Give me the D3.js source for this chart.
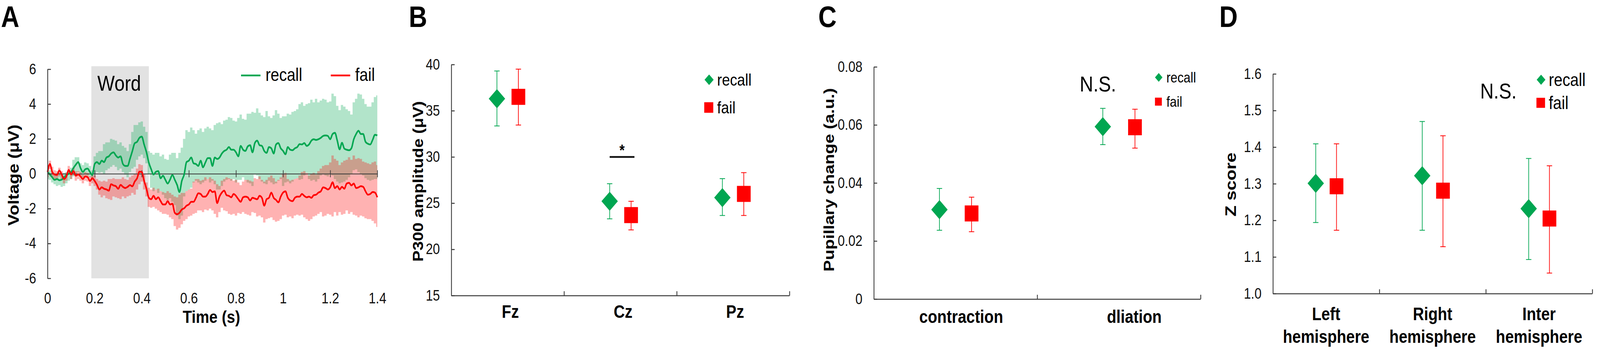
<!DOCTYPE html>
<html>
<head>
<meta charset="utf-8">
<script src="https://cdn.jsdelivr.net/npm/d3@7.9.0/dist/d3.min.js"></script>
<style>
  html, body { margin: 0; padding: 0; background: #fff; width: 100%; height: 100%; overflow: hidden; }
  svg { display: block; width: 100vw; height: 100vh; font-family: "Liberation Sans", Arial, sans-serif; }
</style>
</head>
<body>
<svg id="fig" viewBox="0 0 4779 903" preserveAspectRatio="none"></svg>
<script>
// ---------- panel A: ERP time course (0.01 s steps, 0 .. 1.4 s) ----------
const timeStep = 0.01;
const timeTicks = [0, 0.2, 0.4, 0.6, 0.8, 1, 1.2, 1.4];
const timeTickLabels = ["0", "0.2", "0.4", "0.6", "0.8", "1", "1.2", "1.4"];
const voltTicks = [-6, -4, -2, 0, 2, 4, 6];
const wordWindow = [0.186, 0.43];

const recallMean = [
  0.1, -0.04, -0.2, -0.35, -0.3, -0.37, -0.34, -0.2, -0.08, 0,
  0.1, 0.33, 0.52, 0.67, 0.33, 0.1, 0.26, 0.3, 0.1, -0.07,
  0.56, 0.67, 0.56, 0.75, 0.67, 0.93, 1.0, 1.16, 1.23, 1.05,
  0.93, 1.0, 0.56, 0.45, 0.45, 0.86, 1.3, 1.75, 1.83, 2.06,
  2.13, 1.68, 1.23, 0.64, 0.26, -0.04, 0.11, 0.15, -0.26, -0.11,
  -0.34, -0.56, -0.34, -0.07, -0.34, -0.64, -1.05, -0.41, -0.04, 0.67,
  0.75, 0.93, 0.6, 0.56, 0.45, 0.75, 0.37, 0.64, 0.9, 0.9,
  0.45, 0.93, 0.85, 0.93, 1.16, 1.31, 1.38, 1.53, 1.38, 1.38,
  1.23, 1.0, 1.6, 1.38, 1.31, 1.57, 1.64, 1.23, 1.76, 1.9,
  1.64, 1.6, 1.31, 1.2, 1.53, 1.46, 1.16, 1.68, 1.76, 1.46,
  1.31, 1.12, 1.53, 1.38, 1.35, 1.46, 1.53, 1.7, 1.68, 1.76,
  1.6, 1.68, 1.9, 1.98, 1.94, 1.98, 2.06, 2.17, 2.2, 2.17,
  1.98, 2.28, 2.35, 1.9, 1.4, 1.78, 1.44, 1.38, 1.35, 1.46,
  1.98, 2.28, 2.47, 2.28, 2.28, 1.83, 1.72, 1.68, 1.94, 2.24, 2.2
];
const recallUpper = [
  0.45, 0.2, 0.1, 0.0, 0.0, 0.05, 0.0, 0.05, 0.1, 0.2,
  0.35, 0.8, 0.95, 0.95, 0.6, 0.5, 0.65, 0.6, 0.45, 0.2,
  1.0, 1.2, 1.3, 1.3, 1.7, 1.8, 1.8, 2.0, 1.95, 1.9,
  1.7, 1.8, 1.6, 1.5, 1.3, 1.7, 2.4, 2.8, 2.8, 2.95,
  3.0, 2.7, 2.4, 1.3, 1.2, 1.1, 1.2, 1.2, 1.0, 1.1,
  0.85, 0.8, 1.1, 1.2, 1.2, 0.9, 1.2, 1.5, 2.0, 2.5,
  2.4, 2.65, 2.5, 2.3, 2.5, 2.6, 2.4, 2.6, 2.7, 2.6,
  2.5, 2.8, 2.9, 2.95, 2.85, 3.05, 3.1, 3.25, 3.2, 3.05,
  3.0, 3.2, 3.4, 3.15, 3.1, 3.45, 3.45, 3.55, 3.5, 3.75,
  3.5, 3.35, 3.25, 3.6, 3.3, 3.2, 3.35, 3.65, 3.45, 3.2,
  3.3, 3.3, 3.45, 3.4, 3.55, 3.6, 3.7, 4.0, 4.1, 3.9,
  4.0, 4.05, 4.25, 4.1, 4.3, 4.1, 4.2, 4.3, 4.25, 4.1,
  4.15, 4.6, 4.45, 3.9, 3.65, 3.95, 3.85, 3.7, 3.6, 3.4,
  4.1, 4.3, 4.6, 4.55, 4.3, 4.0, 3.85, 3.85, 4.1, 4.4, 4.5
];
const recallLower = [
  -0.3, -0.35, -0.5, -0.6, -0.7, -0.65, -0.75, -0.7, -0.55, -0.4,
  -0.3, -0.15, 0.0, 0.1, -0.1, -0.2, -0.05, -0.1, -0.2, -0.35,
  0.0, 0.1, 0.05, 0.1, 0.0, 0.2, 0.3, 0.4, 0.5, 0.4,
  0.2, 0.3, 0.1, -0.05, -0.2, 0.1, 0.3, 0.4, 0.8, 1.0,
  1.1, 0.9, 0.6, 0.0, -0.8, -1.0, -0.9, -1.1, -1.0, -1.2,
  -1.4, -1.5, -1.4, -1.6, -1.8, -2.4, -2.6, -2.4, -1.3, -1.0,
  -0.9, -0.8, -0.5, -0.4, -0.5, -0.6, -0.5, -0.4, -0.3, -0.5,
  -0.4, -0.6, -0.9, -0.9, -0.7, -0.45, -0.35, -0.3, -0.4, -0.3,
  -0.5, -0.35, -0.35, -0.2, -0.35, -0.5, -0.55, -0.7, -0.05, -0.1,
  -0.3, -0.45, -0.55, -0.6, -0.4, -0.5, -0.6, -0.55, -0.4, -0.3,
  -0.7, -0.5, -0.45, -0.55, -0.45, -0.3, -0.25, -0.35, -0.3, -0.1,
  0.05, -0.3, -0.4, -0.35, -0.45, -0.3, -0.1, 0.0, -0.1, -0.15,
  0.0, -0.1, -0.3, -0.45, -0.55, -0.5, -0.45, -0.35, -0.2, 0.0,
  0.2, 0.25, 0.1, 0.0, -0.1, -0.25, -0.35, -0.4, -0.35, -0.3, -0.3
];
const failMean = [
  0.1, 0.56, 0.1, -0.04, -0.07, 0.19, -0.04, -0.3, -0.15, 0.22,
  -0.04, 0.15, -0.11, -0.04, -0.15, -0.3, -0.15, -0.19, -0.41, -0.26,
  -0.41, -0.64, -0.9, -0.78, -0.86, -0.9, -0.97, -0.6, -0.67, -0.71,
  -0.86, -0.64, -0.75, -0.82, -0.75, -0.65, -0.72, -0.45, -0.26, 0.12,
  0.1, -0.41, -0.86, -1.38, -1.46, -1.27, -1.46, -1.35, -1.57, -1.76,
  -1.76, -1.57, -1.76, -1.72, -2.24, -2.32, -2.24, -2.05, -1.98, -1.83,
  -1.76, -1.61, -1.61, -1.38, -1.12, -1.16, -1.31, -1.31, -1.16, -0.93,
  -1.05, -1.01, -1.68, -1.31, -1.08, -0.97, -1.23, -1.27, -1.35, -1.16,
  -1.27, -1.46, -1.61, -1.35, -1.31, -1.35, -1.53, -1.38, -1.42, -1.46,
  -1.27, -1.38, -1.83, -1.46, -1.38, -1.08, -1.38, -1.5, -1.64, -1.31,
  -1.08, -1.01, -1.38, -1.53, -1.57, -1.38, -1.31, -1.31, -1.16, -1.27,
  -1.35, -1.31, -1.38, -1.23, -1.2, -1.08, -1.01, -0.78, -0.82, -0.9,
  -0.78, -0.49, -0.82, -0.71, -0.9, -0.75, -0.86, -0.56, -0.52, -0.67,
  -0.56, -0.82, -0.78, -0.71, -0.75, -1.01, -1.2, -1.16, -1.05, -1.08, -1.35
];
const failUpper = [
  0.5, 0.75, 0.4, 0.2, 0.15, 0.35, 0.15, -0.1, 0.05, 0.45,
  0.15, 0.35, 0.15, 0.15, 0.1, -0.05, 0.1, 0.05, -0.15, 0.0,
  -0.1, -0.3, -0.4, -0.45, -0.4, -0.45, -0.3, -0.3, -0.25, -0.3,
  -0.3, -0.3, -0.2, -0.3, -0.35, -0.2, -0.1, 0.0, 0.3, 0.55,
  0.5, 0.0, -0.5, -0.8, -0.9, -0.8, -0.9, -0.85, -1.0, -1.05,
  -1.1, -1.0, -1.1, -1.2, -1.3, -1.35, -1.2, -1.1, -1.1, -1.0,
  -0.9, -0.85, -0.45, -0.3, -0.3, -0.4, -0.35, -0.2, -0.3, -0.2,
  -0.3, -0.4, -0.6, -0.7, -0.4, -0.3, -0.2, -0.25, -0.3, -0.4,
  -0.35, -0.5, -0.65, -0.45, -0.35, -0.35, -0.4, -0.45, -0.25, -0.3,
  -0.15, -0.35, -0.45, -0.35, -0.2, -0.1, -0.25, -0.45, -0.35, -0.2,
  0.0, 0.05, -0.3, -0.4, -0.35, -0.3, -0.25, -0.1, 0.1, 0.15,
  0.05, -0.1, 0.0, 0.05, -0.05, 0.15, 0.3, 0.45, 0.5, 0.5,
  0.65, 1.05, 0.85, 0.75, 0.5, 0.65, 0.75, 0.8, 0.95, 0.8,
  1.05, 0.85, 0.9, 0.85, 0.7, 0.65, 0.6, 0.55, 0.65, 0.7, 0.5
];
const failLower = [
  -0.2, 0.25, -0.15, -0.3, -0.35, -0.15, -0.35, -0.55, -0.4, -0.05,
  -0.3, -0.1, -0.4, -0.3, -0.4, -0.55, -0.4, -0.45, -0.7, -0.55,
  -0.7, -0.9, -1.2, -1.35, -1.25, -1.4, -1.45, -1.5, -1.3, -1.35,
  -1.4, -1.45, -1.3, -1.4, -1.3, -1.25, -1.1, -1.2, -0.9, -0.6,
  -0.45, -0.9, -1.3, -1.9, -1.95, -1.9, -2.0, -2.1, -2.2, -2.3,
  -2.3, -2.35, -2.5, -2.6, -3.0, -3.2, -3.1, -2.9, -2.7, -2.6,
  -2.45, -2.4, -2.3, -2.25, -2.1, -2.1, -2.2, -2.05, -2.1, -2.0,
  -2.1, -2.3, -2.5, -2.2, -1.95, -2.1, -2.15, -2.3, -2.35, -2.3,
  -2.4, -2.25, -2.3, -2.2, -2.3, -2.35, -2.4, -2.2, -2.25, -2.45,
  -2.4, -2.5, -2.8, -2.6, -2.55, -2.5, -2.65, -2.75, -2.7, -2.6,
  -2.4, -2.35, -2.5, -2.45, -2.55, -2.4, -2.35, -2.4, -2.35, -2.5,
  -2.6, -2.7, -2.6, -2.45, -2.4, -2.3, -2.2, -2.45, -2.4, -2.3,
  -2.35, -2.45, -2.2, -2.4, -2.2, -2.35, -2.3, -2.1, -2.3, -2.2,
  -2.35, -2.4, -2.5, -2.4, -2.45, -2.55, -2.6, -2.6, -2.7, -2.85, -3.05
];

// ---------- panel B: P300 amplitude ----------
const electrodes = ["Fz", "Cz", "Pz"];
const p300Ticks = [15, 20, 25, 30, 35, 40];
const p300Recall = [36.3, 25.2, 25.6];
const p300RecallHigh = [39.3, 27.1, 27.65];
const p300RecallLow = [33.35, 23.3, 23.66];
const p300Fail = [36.5, 23.7, 26.0];
const p300FailHigh = [39.5, 25.2, 28.3];
const p300FailLow = [33.45, 22.1, 23.66];

// ---------- panel C: pupil ----------
const pupilPhases = ["contraction", "dliation"];
const pupilTicks = [0, 0.02, 0.04, 0.06, 0.08];
const pupilTickLabels = ["0", "0.02", "0.04", "0.06", "0.08"];
const pupilRecall = [0.0308, 0.0594];
const pupilRecallHigh = [0.0381, 0.0657];
const pupilRecallLow = [0.0237, 0.0532];
const pupilFail = [0.0295, 0.0592];
const pupilFailHigh = [0.0351, 0.0654];
const pupilFailLow = [0.0232, 0.052];

// ---------- panel D: Z score ----------
const hemispheres = [["Left", "hemisphere"], ["Right", "hemisphere"], ["Inter", "hemisphere"]];
const zTicks = [1.0, 1.1, 1.2, 1.3, 1.4, 1.5, 1.6];
const zTickLabels = ["1.0", "1.1", "1.2", "1.3", "1.4", "1.5", "1.6"];
const zRecall = [1.301, 1.322, 1.232];
const zRecallHigh = [1.409, 1.47, 1.369];
const zRecallLow = [1.194, 1.173, 1.093];
const zFail = [1.293, 1.281, 1.205];
const zFailHigh = [1.409, 1.431, 1.349];
const zFailLow = [1.173, 1.128, 1.056];

// ---------- drawing ----------
const GREEN = "#00a651";
const RED = "#ff0000";
const AXIS = "#3a3a3a";
const svg = d3.select("#fig");
svg.append("rect").attr("width", 4779).attr("height", 903).attr("fill", "#fff");

function styleAxis(g, fontSize) {
  g.select(".domain").attr("stroke", AXIS).attr("stroke-width", 2.5);
  g.selectAll(".tick line").attr("stroke", AXIS).attr("stroke-width", 2.5);
  g.selectAll(".tick text").attr("fill", "#111").style("font-size", fontSize + "px")
    .style("font-family", '"Liberation Sans", Arial, sans-serif');
}

function panelLetter(letter, x) {
  svg.append("text").attr("x", x).attr("y", 69).text(letter)
    .style("font-size", "76px").style("font-weight", "bold");
}

function yTitle(text, x, y, size) {
  svg.append("text").attr("transform", `translate(${x},${y}) rotate(-90)`)
    .attr("text-anchor", "middle").text(text)
    .style("font-size", size + "px").style("font-weight", "bold");
}

// ----- Panel A -----
panelLetter("A", 3);
const xA = d3.scaleLinear().domain([0, 1.4]).range([142, 1127]);
const yA = d3.scaleLinear().domain([-6, 6]).range([712, 177]);
const times = recallMean.map((_, i) => i * timeStep);

svg.append("rect")
  .attr("x", xA(wordWindow[0])).attr("y", yA(6.17))
  .attr("width", xA(wordWindow[1]) - xA(wordWindow[0]))
  .attr("height", yA(-6) - yA(6.17))
  .attr("fill", "#e2e2e2");

svg.append("text").attr("x", xA(wordWindow[0]) + 18).attr("y", 232).text("Word")
  .style("font-size", "55px");

const band = (lo, hi) => d3.area()
  .x((d, i) => xA(times[i]))
  .y0((d, i) => yA(lo[i]))
  .y1((d, i) => yA(hi[i]))
  .curve(d3.curveStep);

svg.append("path").datum(times).attr("d", band(recallLower, recallUpper))
  .attr("fill", GREEN).attr("fill-opacity", 0.3);
svg.append("path").datum(times).attr("d", band(failLower, failUpper))
  .attr("fill", RED).attr("fill-opacity", 0.3);

// zero line with crossing ticks
const zeroAxis = svg.append("g").attr("transform", `translate(0,${yA(0)})`)
  .call(d3.axisBottom(xA).tickValues(timeTicks.slice(1)).tickSize(9).tickSizeOuter(0).tickFormat(""));
styleAxis(zeroAxis, 38);
zeroAxis.select(".domain").attr("stroke-width", 2);
zeroAxis.selectAll(".tick line").attr("y1", -9).attr("stroke-width", 2);

const line = (vals) => d3.line()
  .x((d, i) => xA(times[i]))
  .y((d, i) => yA(vals[i]))
  .curve(d3.curveMonotoneX);

svg.append("path").datum(times).attr("d", line(recallMean))
  .attr("fill", "none").attr("stroke", GREEN).attr("stroke-width", 4.5).attr("stroke-linejoin", "round");
svg.append("path").datum(times).attr("d", line(failMean))
  .attr("fill", "none").attr("stroke", RED).attr("stroke-width", 4.5).attr("stroke-linejoin", "round");

const yAxisA = svg.append("g").attr("transform", "translate(142,0)")
  .call(d3.axisLeft(yA).tickValues(voltTicks).tickSize(-10).tickSizeOuter(0).tickPadding(34)
    .tickFormat(d => String(d)));
styleAxis(yAxisA, 38);

const xLabelsA = svg.append("g").attr("transform", "translate(0,749)")
  .call(d3.axisBottom(xA).tickValues(timeTicks).tickSize(0).tickPadding(0)
    .tickFormat((d, i) => timeTickLabels[i]));
xLabelsA.select(".domain").remove();
styleAxis(xLabelsA, 38);

svg.append("text").attr("x", (xA(0) + xA(1.4)) / 2 - 3).attr("y", 826).attr("text-anchor", "middle")
  .text("Time (s)").style("font-size", "45px").style("font-weight", "bold");
yTitle("Voltage (μV)", 56, 448, 45);

// legend A
[[GREEN, "recall", 720], [RED, "fail", 988]].forEach(([c, t, x]) => {
  svg.append("line").attr("x1", x).attr("x2", x + 58).attr("y1", 193).attr("y2", 193)
    .attr("stroke", c).attr("stroke-width", 4.5);
  svg.append("text").attr("x", x + 73).attr("y", 207).text(t).style("font-size", "46px");
});

// ----- dot panels -----
function dotPanel(p) {
  const n = p.cats.length;
  const y = d3.scaleLinear().domain(p.domain).range([p.bottom, p.top]);
  const xi = d3.scaleLinear().domain([0, n]).range([p.left, p.right]);
  const xb = d3.scaleBand().domain(d3.range(n)).range([p.left, p.right]);
  const cx = i => xb(i) + xb.bandwidth() / 2;

  const ya = svg.append("g").attr("transform", `translate(${p.left},0)`)
    .call(d3.axisLeft(y).tickValues(p.ticks).tickSize(-10).tickSizeOuter(0).tickPadding(34)
      .tickFormat((d, i) => p.tickLabels[i]));
  styleAxis(ya, 38);

  const xa = svg.append("g").attr("transform", `translate(0,${p.bottom})`)
    .call(d3.axisBottom(xi).tickValues(d3.range(1, n + 1)).tickSize(-11).tickSizeOuter(0).tickFormat(""));
  styleAxis(xa, 38);

  // category labels
  p.cats.forEach((c, i) => {
    const lines = Array.isArray(c) ? c : [c];
    const t = svg.append("text").attr("text-anchor", "middle")
      .style("font-size", "46px").style("font-weight", "bold");
    lines.forEach((s, k) => {
      t.append("tspan").attr("x", cx(i) + p.labelShift[i]).attr("y", p.labelY + k * 58).text(s);
    });
  });

  const series = [
    { mean: p.recall, hi: p.recallHigh, lo: p.recallLow, color: GREEN, diamond: true, dx: -p.offset },
    { mean: p.fail, hi: p.failHigh, lo: p.failLow, color: RED, diamond: false, dx: p.offset }
  ];
  series.forEach(s => {
    const g = svg.append("g");
    s.mean.forEach((m, i) => {
      const x = cx(i) + s.dx;
      g.append("line").attr("x1", x).attr("x2", x).attr("y1", y(s.lo[i])).attr("y2", y(s.hi[i]))
        .attr("stroke", s.color).attr("stroke-width", 2);
      [s.lo[i], s.hi[i]].forEach(v => {
        g.append("line").attr("x1", x - 8).attr("x2", x + 8).attr("y1", y(v)).attr("y2", y(v))
          .attr("stroke", s.color).attr("stroke-width", 2);
      });
      g.append("path")
        .attr("d", d3.symbol().type(d3.symbolSquare).size(s.diamond ? 1200 : 1680)())
        .attr("transform", `translate(${x},${y(m)})` + (s.diamond ? " rotate(45)" : ""))
        .attr("fill", s.color);
    });
  });

  // legend
  const L = p.legend;
  svg.append("path").attr("d", d3.symbol().type(d3.symbolSquare).size(L.dSize)())
    .attr("transform", `translate(${L.x},${L.y1}) rotate(45)`).attr("fill", GREEN);
  svg.append("text").attr("x", L.tx).attr("y", L.y1 + L.font * 0.34).text("recall")
    .style("font-size", L.font + "px");
  svg.append("path").attr("d", d3.symbol().type(d3.symbolSquare).size(L.sSize)())
    .attr("transform", `translate(${L.x - 1},${L.y2})`).attr("fill", RED);
  svg.append("text").attr("x", L.tx).attr("y", L.y2 + L.font * 0.34).text("fail")
    .style("font-size", L.font + "px");

  return { y, cx };
}

// ----- Panel B -----
panelLetter("B", 1221);
const pB = dotPanel({
  cats: electrodes, domain: [15, 40], ticks: p300Ticks, tickLabels: p300Ticks.map(String),
  left: 1348, right: 2358, top: 165, bottom: 756, offset: 32,
  labelShift: [8, 8, 6], labelY: 813,
  recall: p300Recall, recallHigh: p300RecallHigh, recallLow: p300RecallLow,
  fail: p300Fail, failHigh: p300FailHigh, failLow: p300FailLow,
  legend: { x: 2118, tx: 2142, y1: 204, y2: 275, dSize: 370, sSize: 729, font: 43 }
});
yTitle("P300 amplitude (μV)", 1264, 464, 43);
{
  const xs = [pB.cx(1) - 32, pB.cx(1) + 32];
  svg.append("line").attr("x1", xs[0]).attr("x2", xs[1] + 10)
    .attr("y1", pB.y(30)).attr("y2", pB.y(30)).attr("stroke", "#111").attr("stroke-width", 4.5);
  svg.append("text").attr("x", (xs[0] + xs[1] + 10) / 2).attr("y", pB.y(30) - 3)
    .attr("text-anchor", "middle").text("*").style("font-size", "40px").style("font-weight", "bold");
}

// ----- Panel C -----
panelLetter("C", 2444);
dotPanel({
  cats: pupilPhases, domain: [0, 0.08], ticks: pupilTicks, tickLabels: pupilTickLabels,
  left: 2610, right: 3586, top: 171, bottom: 765, offset: 48,
  labelShift: [17, 46], labelY: 826,
  recall: pupilRecall, recallHigh: pupilRecallHigh, recallLow: pupilRecallLow,
  fail: pupilFail, failHigh: pupilFailHigh, failLow: pupilFailLow,
  legend: { x: 3461, tx: 3484, y1: 198, y2: 260, dSize: 250, sSize: 420, font: 37 }
});
yTitle("Pupillary change (a.u.)", 2491, 460, 44);
svg.append("text").attr("x", 3225).attr("y", 234).text("N.S.").style("font-size", "56px");

// ----- Panel D -----
panelLetter("D", 3642);
dotPanel({
  cats: hemispheres, domain: [1.0, 1.6], ticks: zTicks, tickLabels: zTickLabels,
  left: 3802, right: 4756, top: 189, bottom: 751, offset: 31,
  labelShift: [0, 0, 0], labelY: 819,
  recall: zRecall, recallHigh: zRecallHigh, recallLow: zRecallLow,
  fail: zFail, failHigh: zFailHigh, failLow: zFailLow,
  legend: { x: 4603, tx: 4626, y1: 204, y2: 263, dSize: 340, sSize: 660, font: 46 }
});
yTitle("Z score", 3692, 472, 46);
svg.append("text").attr("x", 4421).attr("y", 252).text("N.S.").style("font-size", "56px");
</script>
</body>
</html>
